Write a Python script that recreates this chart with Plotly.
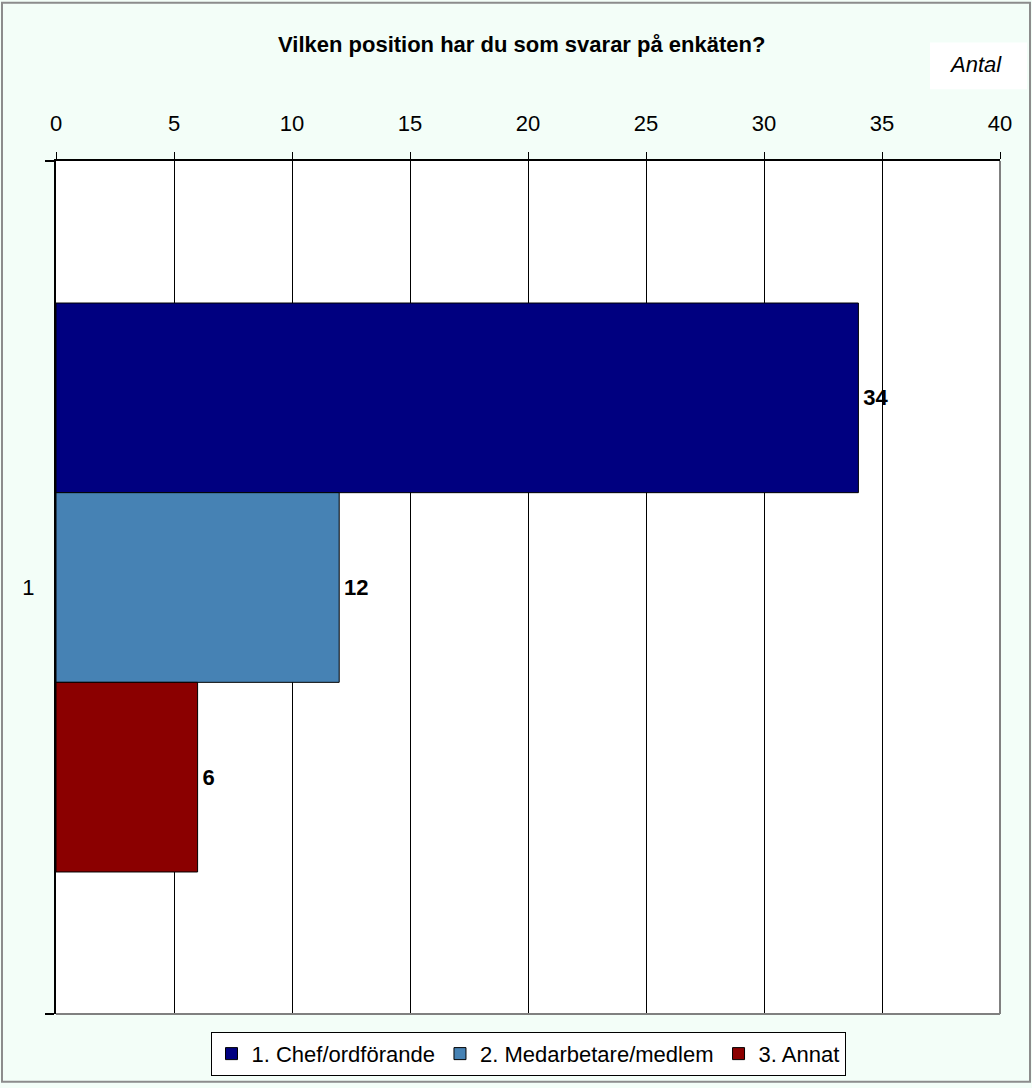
import plotly.graph_objects as go

# ---- data ----
categories = ["1"]
series_names = ["1. Chef/ordförande", "2. Medarbetare/medlem", "3. Annat"]
series_values = [[34], [12], [6]]
series_colors = ["#000080", "#4682B4", "#8B0000"]
x_ticks = [0, 5, 10, 15, 20, 25, 30, 35, 40]

W, H = 1032, 1088
L, R, T, B = 56, 1000, 161, 1018  # plot area in pixels

def px(x):
    return (x - L) / (R - L)

def py(y):
    return (B - y) / (B - T)

FONT = "Liberation Sans, Arial, sans-serif"
FS = 22

fig = go.Figure()
for name, vals, col in zip(series_names, series_values, series_colors):
    fig.add_trace(go.Bar(
        y=categories, x=vals, name=name, orientation="h",
        marker=dict(color=col, line=dict(color="black", width=1)),
        text=["\u200a" + str(v) for v in vals], textposition="outside",
        textfont=dict(family=FONT, size=FS, color="black", weight="bold"),
        cliponaxis=False,
    ))

fig.update_layout(
    width=W, height=H,
    margin=dict(l=L, r=W - R, t=T, b=H - B, pad=0),
    paper_bgcolor="#F3FEF8",
    plot_bgcolor="white",
    barmode="group",
    bargap=0.333,
    bargroupgap=0,
    font=dict(family=FONT, color="black"),
    showlegend=True,
    legend=dict(
        orientation="h", x=0.5, xanchor="center", y=py(1058), yanchor="middle",
        bgcolor="white", bordercolor="black", borderwidth=1,
        font=dict(family=FONT, size=FS, color="black"),
        itemwidth=30, traceorder="normal",
    ),
    xaxis=dict(
        side="top", range=[0, 40], tickvals=x_ticks,
        ticktext=[str(t) for t in x_ticks],
        showgrid=True, gridcolor="black", gridwidth=1,
        showline=True, linecolor="black", linewidth=2,
        ticks="outside", ticklen=7, tickcolor="black", tickwidth=1,
        tickfont=dict(family=FONT, size=FS, color="black"),
        ticklabelstandoff=12,
        zeroline=False, fixedrange=True,
    ),
    yaxis=dict(
        type="category", autorange="reversed",
        showline=True, linecolor="black", linewidth=2,
        ticks="outside", tickson="boundaries", ticklen=9, tickcolor="black",
        tickwidth=2,
        tickfont=dict(family=FONT, size=FS, color="black"),
        ticklabelstandoff=15,
        showgrid=False, zeroline=False, fixedrange=True,
    ),
    shapes=[
        # outer frame
        dict(type="rect", xref="paper", yref="paper",
             x0=px(2), x1=px(1030), y0=py(1086), y1=py(2),
             line=dict(color="#8C8C8C", width=2), layer="below"),
        # plot border right and bottom
        dict(type="line", xref="paper", yref="paper", x0=1, x1=1, y0=0, y1=1,
             line=dict(color="#808080", width=2), layer="above"),
        dict(type="line", xref="paper", yref="paper", x0=0, x1=1, y0=0, y1=0,
             line=dict(color="#808080", width=2), layer="above"),
        # Antal box
        dict(type="rect", xref="paper", yref="paper",
             x0=px(930), x1=px(1027), y0=py(89), y1=py(42),
             fillcolor="white", line=dict(width=0), layer="below"),
    ],
    annotations=[
        dict(text="<b>Vilken position har du som svarar på enkäten?</b>",
             xref="paper", yref="paper", x=px(521), y=py(44),
             xanchor="center", yanchor="middle", showarrow=False,
             font=dict(family=FONT, size=FS, color="black")),
        dict(text="<i>Antal</i>", xref="paper", yref="paper",
             x=px(975), y=py(64), xanchor="center", yanchor="middle",
             showarrow=False, font=dict(family=FONT, size=FS, color="black")),
    ],
)

fig.write_html(
    "out.html",
    config={"displayModeBar": False},
    post_script="document.body.style.margin='0px';"
                "document.body.style.overflow='hidden';"
                "window.scrollTo(0,0);",
)
